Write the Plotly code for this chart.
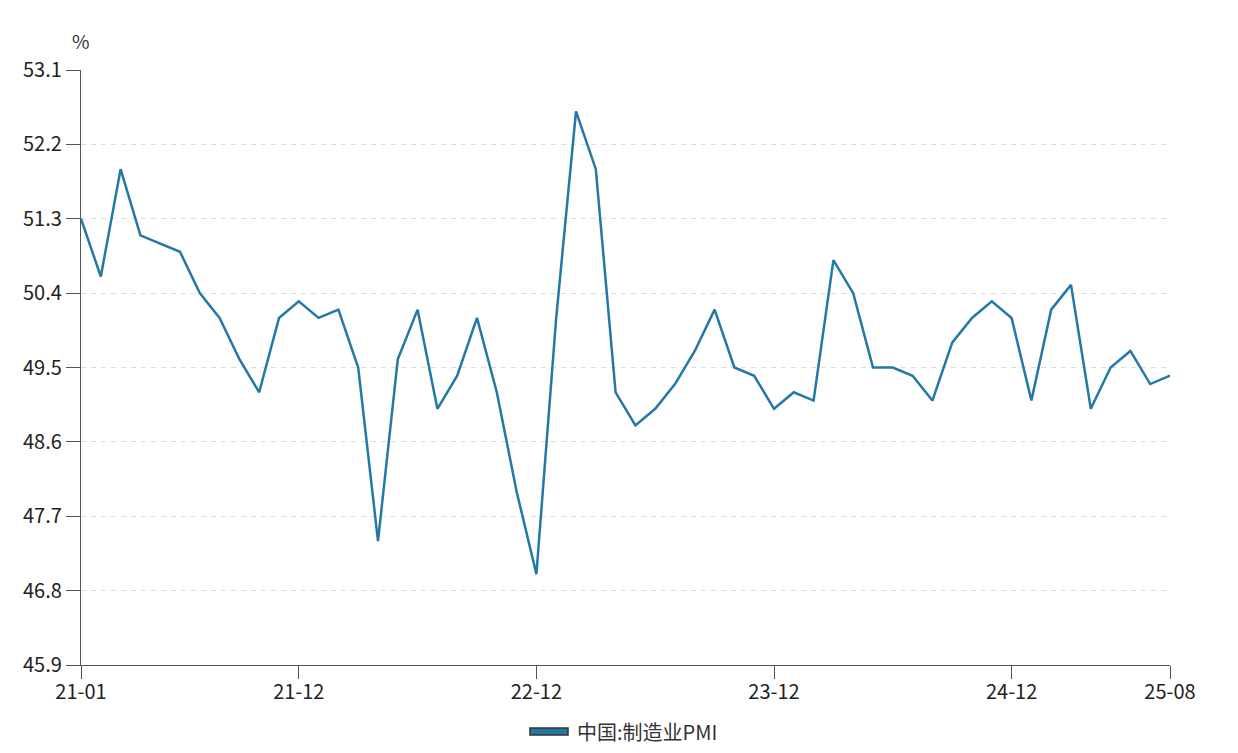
import plotly.graph_objects as go

months = [f"{y:02d}-{m:02d}" for y in range(21, 26) for m in range(1, 13)]
months = months[:56]  # 21-01 .. 25-08

pmi = [
    51.3, 50.6, 51.9, 51.1, 51.0, 50.9, 50.4, 50.1, 49.6, 49.2, 50.1, 50.3,
    50.1, 50.2, 49.5, 47.4, 49.6, 50.2, 49.0, 49.4, 50.1, 49.2, 48.0, 47.0,
    50.1, 52.6, 51.9, 49.2, 48.8, 49.0, 49.3, 49.7, 50.2, 49.5, 49.4, 49.0,
    49.2, 49.1, 50.8, 50.4, 49.5, 49.5, 49.4, 49.1, 49.8, 50.1, 50.3, 50.1,
    49.1, 50.2, 50.5, 49.0, 49.5, 49.7, 49.3, 49.4,
]

x_ticks = ["21-01", "21-12", "22-12", "23-12", "24-12", "25-08"]
y_ticks = [45.9, 46.8, 47.7, 48.6, 49.5, 50.4, 51.3, 52.2, 53.1]

series_name = "中国:制造业PMI"
unit = "%"

line_color = "#2378a5"
font_family = "Noto Sans CJK SC, Noto Sans, sans-serif"

fig = go.Figure()
fig.add_trace(go.Scatter(
    x=months, y=pmi, mode="lines", name=series_name,
    line=dict(color=line_color, width=2.5), showlegend=False,
))

# legend drawn as a bordered swatch plus text (matches reference style)
fig.add_shape(type="rect", xref="paper", yref="paper",
              x0=0.4123, x1=0.4472, y0=-0.1176, y1=-0.1059,
              line=dict(color="#333333", width=1.5), fillcolor=line_color)

fig.update_layout(
    width=1238, height=753,
    margin=dict(l=73, r=76, t=62, b=96),
    paper_bgcolor="white", plot_bgcolor="white",
    font=dict(family=font_family, size=20, color="#333333"),
    annotations=[
        dict(text=unit, xref="paper", yref="paper", x=0, y=1.05,
             xanchor="center", yanchor="middle", showarrow=False,
             font=dict(size=19, color="#333333")),
        dict(text=series_name, xref="paper", yref="paper", x=0.4536, y=-0.111,
             xanchor="left", yanchor="middle", showarrow=False,
             font=dict(size=20, color="#333333")),
    ],
)

fig.update_xaxes(
    type="category", range=[0, len(months) - 1],
    tickmode="array", tickvals=x_ticks, ticktext=x_ticks,
    showgrid=False, showline=True, linecolor="#555555", linewidth=1.2,
    ticks="outside", ticklen=13, tickcolor="#555555", tickwidth=1.2,
    ticklabelstandoff=-4,
    tickfont=dict(size=20, color="#222222"), automargin=False,
)
fig.update_yaxes(
    range=[45.9, 53.1], tickmode="array", tickvals=y_ticks,
    ticktext=[f"{v:.1f}" for v in y_ticks],
    showgrid=True, gridcolor="#dcdcdc", griddash="5px,5px", gridwidth=1,
    showline=True, linecolor="#555555", linewidth=1.2,
    ticks="outside", ticklen=14, tickcolor="#555555", tickwidth=1.2,
    tickfont=dict(size=20, color="#222222"), zeroline=False, automargin=False,
)

fig.write_html("out.html")
